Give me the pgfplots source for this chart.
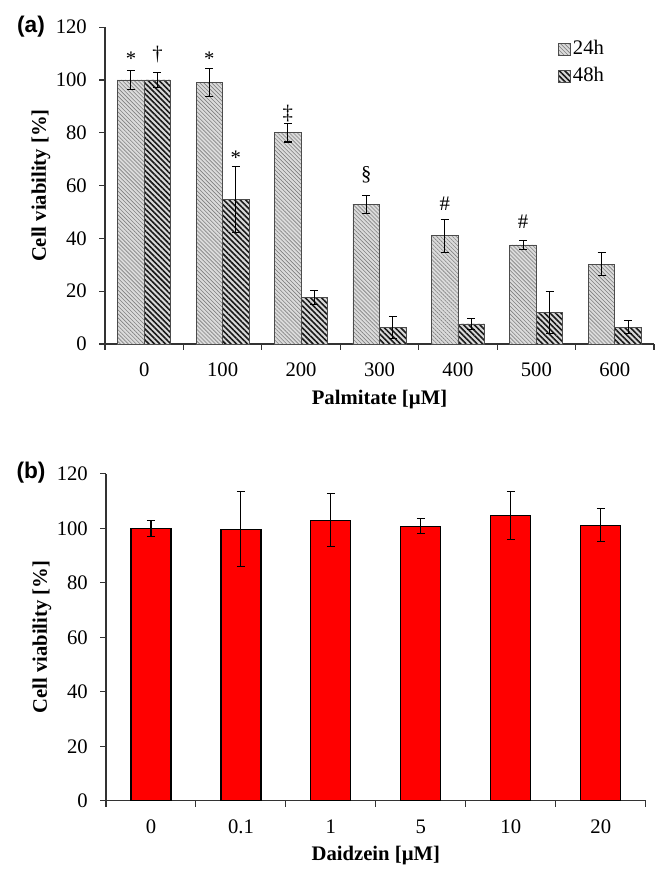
\documentclass[border=0pt]{standalone}
\usepackage{pgfplots}
\pgfplotsset{compat=1.18}
\usepackage{fontspec}
\setmainfont{Liberation Serif}
\newfontfamily\arialfont{Liberation Sans}
\usetikzlibrary{patterns.meta}
\begin{document}
\fontsize{15.5}{18}\selectfont
\begin{tikzpicture}
\path[use as bounding box] (0,0) rectangle (494.25pt,654.75pt);
\pgfplotsset{
  common/.style={
    scale only axis,
    axis x line*=bottom, axis y line*=left,
    axis line style={black!80, line width=0.8pt},
    ymin=0, ymax=120, ytick={0,20,...,120},
    tick align=outside,
    major tick length=4.5pt,
    minor tick length=4.5pt,
    every tick/.style={black!80, line width=0.8pt},
    major x tick style={draw=none},
    tick label style={font=\fontsize{15.5}{18}\selectfont},
    xticklabel style={yshift=-4.5pt},
    yticklabel style={xshift=-3.8pt},
    /pgf/number format/assume math mode=true,
    ylabel={Cell viability [\%]},
    every axis y label/.style={at={([xshift=-48pt]rel axis cs:0,0.5)}, rotate=90, anchor=center,
      font=\bfseries\fontsize{15.5}{18}\selectfont},
    error bars/y dir=both, error bars/y explicit,
    error bars/error bar style={black, line width=0.8pt},
    error bars/error mark options={rotate=90, mark size=3pt, line width=0.8pt, black},
    clip=false,
  }
}
% Panel (a)
\begin{axis}[common,
  at={(78.75pt,396.75pt)}, anchor=south west,
  width=411.75pt, height=237.6pt,
  xmin=-0.5, xmax=6.5,
  xtick={0,...,6}, xticklabels={0,100,200,300,400,500,600},
  minor xtick={-0.5,0.5,...,6.5},
  ybar=0pt, bar width=19.9pt,
  xlabel={Palmitate [µM]},
  every axis x label/.style={at={([yshift=-42pt]rel axis cs:0.5,0)}, anchor=center,
    font=\bfseries\fontsize{15.5}{18}\selectfont},
  legend style={at={(rel axis cs:0.825,0.965)}, anchor=north west, draw=none, fill=none,
    font=\fontsize{15.5}{18}\selectfont, row sep=4pt, inner sep=0pt,
    nodes={inner sep=1.5pt}},
  legend image code/.code={\draw[#1] (0pt,-4.5pt) rectangle (9pt,4.5pt);},
]
\addplot[fill=black!14, draw=black!70, line width=0.6pt,
  postaction={pattern color=black!50, pattern={Lines[angle=-45,distance=2.1pt,line width=0.45pt]}}]
  coordinates {
  (0,100) +- (0,3.5)
  (1,99) +- (0,5.2)
  (2,80) +- (0,3.5)
  (3,53) +- (0,3.4)
  (4,41) +- (0,6.2)
  (5,37.5) +- (0,1.8)
  (6,30.2) +- (0,4.4)
};
\addplot[fill=black!15, draw=black!70, line width=0.6pt,
  postaction={pattern color=black!90, pattern={Lines[angle=-45,distance=2.9pt,line width=1.2pt]}}]
  coordinates {
  (0,100) +- (0,3)
  (1,54.8) +- (0,12.4)
  (2,17.6) +- (0,2.8)
  (3,6.2) +- (0,4.2)
  (4,7.6) +- (0,2.1)
  (5,12) +- (0,8)
  (6,6.3) +- (0,2.5)
};
\legend{24h,48h}
\node[yshift=-3pt] at (axis cs:-0.169,109.5) {*};
\node at (axis cs:0.169,109.5) {†};
\node[yshift=-3pt] at (axis cs:0.831,109.5) {*};
\node[yshift=-3pt] at (axis cs:1.169,72.2) {*};
\node at (axis cs:1.831,87.4) {‡};
\node at (axis cs:2.831,64) {§};
\node at (axis cs:3.831,53.3) {\#};
\node at (axis cs:4.831,46.3) {\#};
\end{axis}
% Panel (b)
\begin{axis}[common,
  at={(79.5pt,54.2pt)}, anchor=south west,
  width=404.8pt, height=245.2pt,
  xmin=-0.5, xmax=5.5,
  xtick={0,...,5}, xticklabels={0,0.1,1,5,10,20},
  minor xtick={-0.5,0.5,...,5.5},
  ybar=0pt, bar width=30pt,
  xlabel={Daidzein [µM]},
  every axis x label/.style={at={([yshift=-41pt]rel axis cs:0.5,0)}, anchor=center,
    font=\bfseries\fontsize{15.5}{18}\selectfont},
]
\addplot[fill=red, draw=black, line width=0.9pt]
  coordinates {
  (0,100) +- (0,2.9)
  (1,99.7) +- (0,13.8)
  (2,103) +- (0,9.6)
  (3,100.8) +- (0,2.7)
  (4,104.7) +- (0,8.8)
  (5,101.1) +- (0,6.1)
};
\end{axis}
\node[font=\arialfont\bfseries\fontsize{17}{19}\selectfont] at (23.25pt,634.5pt) {(a)};
\node[font=\arialfont\bfseries\fontsize{17}{19}\selectfont] at (23.25pt,300pt) {(b)};
\end{tikzpicture}
\end{document}
